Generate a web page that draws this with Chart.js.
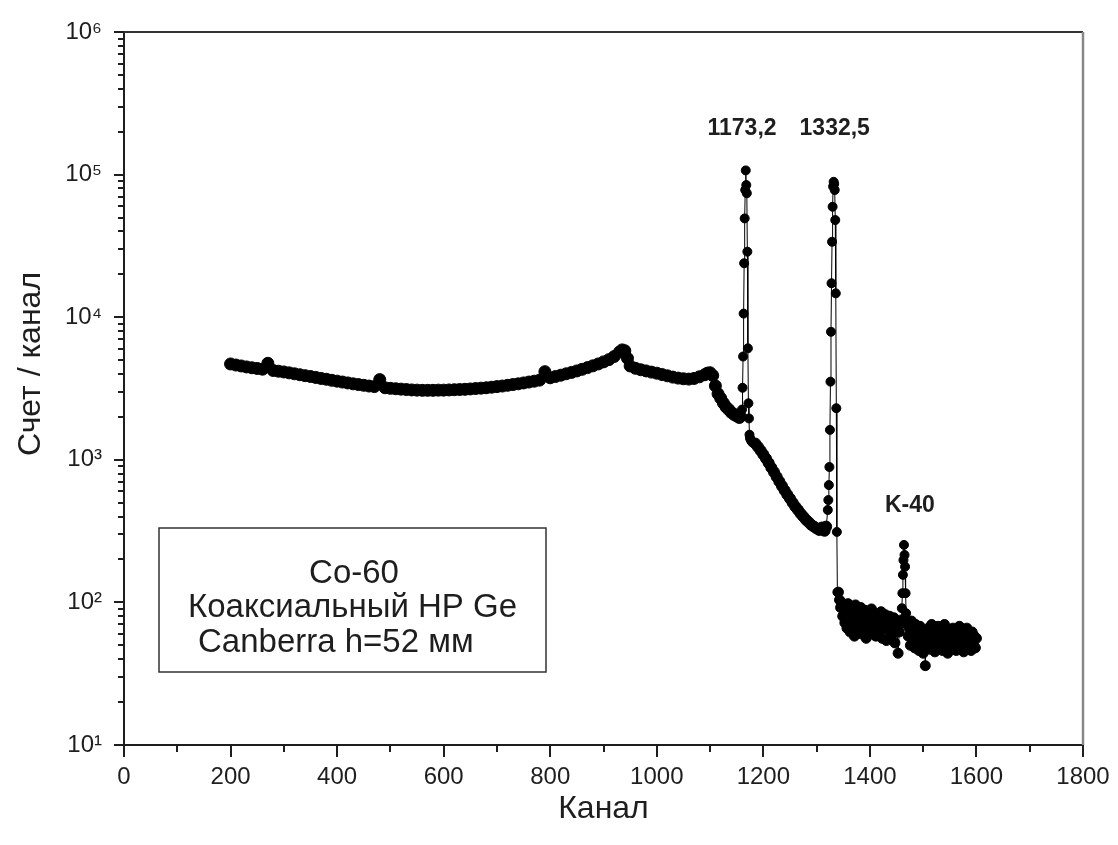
<!DOCTYPE html>
<html>
<head>
<meta charset="utf-8">
<title>Co-60 spectrum</title>
<script src="https://cdn.jsdelivr.net/npm/chart.js@4.4.0/dist/chart.umd.min.js"></script>
<style>
  html, body { margin: 0; padding: 0; background: #fff; }
  #wrap { width: 1118px; height: 845px; }
</style>
</head>
<body>
<div id="wrap"><canvas id="spectrum" width="1118" height="845"></canvas></div>
<script>
// continuum (Compton part) from channel 200 up to the first peak
var contChannels = [200, 210, 220, 230, 240, 250, 260, 270, 280, 290,
  300, 310, 320, 330, 340, 350, 360, 370, 380, 390,
  400, 410, 420, 430, 440, 450, 460, 470, 480, 490,
  500, 510, 520, 530, 540, 550, 560, 570, 580, 590,
  600, 610, 620, 630, 640, 650, 660, 670, 680, 690,
  700, 710, 720, 730, 740, 750, 760, 770, 780, 790,
  800, 810, 820, 830, 840, 850, 860, 870, 880, 890,
  900, 910, 920, 930, 935, 940, 945, 950, 960, 970, 980, 990,
  1000, 1010, 1020, 1030, 1040, 1050, 1060, 1070, 1080, 1090,
  1095, 1100, 1105, 1110, 1115, 1120, 1125, 1130, 1135, 1140, 1145, 1150, 1155];
var contCounts = [4700, 4620, 4550, 4480, 4420, 4370, 4320, 4750, 4230, 4180,
  4130, 4070, 4010, 3950, 3890, 3840, 3780, 3720, 3670, 3610,
  3560, 3510, 3460, 3410, 3370, 3330, 3290, 3260, 3650, 3200,
  3170, 3150, 3130, 3110, 3090, 3080, 3070, 3070, 3070, 3080,
  3080, 3090, 3100, 3110, 3120, 3140, 3160, 3180, 3200, 3230,
  3260, 3290, 3330, 3370, 3410, 3460, 3510, 3560, 3620, 4150,
  3760, 3840, 3920, 4010, 4100, 4200, 4310, 4430, 4560, 4700,
  4860, 5040, 5300, 5700, 5900, 5820, 5150, 4550, 4380, 4280, 4200, 4120,
  4050, 3960, 3880, 3800, 3740, 3700, 3680, 3720, 3820, 3950,
  4050, 4080, 3900, 3300, 2900, 2700, 2500, 2350, 2250, 2150, 2080, 2030, 1980];

// 1173,2 keV photopeak
var peak1Channels = [1158, 1159, 1160, 1161, 1162, 1163, 1164, 1165, 1166, 1167, 1168, 1169,
  1170, 1171, 1172, 1173, 1174, 1175, 1176, 1177, 1178, 1179, 1180];
var peak1Counts = [2000, 2050, 2250, 3200, 5300, 10600, 23900, 49300, 78000, 107000, 84500, 74000,
  28800, 6050, 2490, 1950, 1500, 1420, 1390, 1370, 1350, 1330, 1320];

// between the two peaks
var midChannels = [1185, 1190, 1195, 1200, 1205, 1210, 1215, 1220, 1225, 1230,
  1235, 1240, 1245, 1250, 1255, 1260, 1265, 1270, 1275, 1280,
  1285, 1290, 1295, 1300, 1305, 1310, 1315, 1318];
var midCounts = [1300, 1230, 1160, 1090, 1020, 950, 880, 820, 760, 705,
  655, 610, 570, 535, 500, 470, 445, 420, 400, 380,
  365, 350, 340, 330, 322, 335, 318, 340];

// 1332,5 keV photopeak
var peak2Channels = [1321, 1322, 1323, 1324, 1325, 1326, 1327, 1328, 1329, 1330,
  1331, 1332, 1333, 1334, 1335, 1336, 1337, 1338, 1339];
var peak2Counts = [445, 522, 665, 890, 1620, 3530, 7900, 17300, 33800, 59500,
  82500, 89000, 86000, 78000, 48000, 14700, 2300, 312, 118];

// background tail, K-40 line in the middle
var tailAChannels = [1341, 1343, 1345, 1347, 1349, 1351, 1353, 1355, 1357, 1359,
  1361, 1363, 1365, 1367, 1369, 1371, 1373, 1375, 1377, 1379,
  1381, 1383, 1385, 1387, 1389, 1391, 1393, 1395, 1397, 1399,
  1401, 1403, 1405, 1407, 1409, 1411, 1413, 1415, 1417, 1419,
  1421, 1423, 1425, 1427, 1429, 1431, 1433, 1435, 1437, 1439,
  1441, 1443, 1445, 1447, 1449, 1451, 1453, 1455, 1457];
var tailACounts = [118, 104, 92, 100, 80, 95, 72, 88, 66, 98,
  76, 62, 90, 70, 84, 58, 96, 74, 64, 86,
  68, 92, 60, 78, 70, 88, 56, 82, 66, 76,
  60, 90, 72, 64, 84, 58, 74, 80, 62, 70,
  86, 56, 76, 66, 82, 54, 72, 64, 80, 58,
  70, 60, 78, 52, 68, 74, 44, 62, 70];
var k40Channels = [1459, 1460, 1461, 1462, 1463, 1464, 1465, 1466, 1467, 1468];
var k40Counts = [76, 91, 116, 156, 198, 253, 215, 178, 116, 84];
var tailBChannels = [1470, 1472, 1474, 1476, 1478, 1480, 1482, 1484, 1486, 1488,
  1490, 1492, 1494, 1496, 1498, 1500, 1502, 1504, 1506, 1508,
  1510, 1512, 1514, 1516, 1518, 1520, 1522, 1524, 1526, 1528,
  1530, 1532, 1534, 1536, 1538, 1540, 1542, 1544, 1546, 1548,
  1550, 1552, 1554, 1556, 1558, 1560, 1562, 1564, 1566, 1568,
  1570, 1572, 1574, 1576, 1578, 1580, 1582, 1584, 1586, 1588,
  1590, 1592, 1594, 1596, 1598, 1600];
var tailBCounts = [72, 58, 66, 50, 74, 56, 62, 48, 70, 54,
  64, 46, 68, 52, 60, 44, 58, 36, 62, 50,
  66, 47, 58, 70, 52, 60, 45, 64, 54, 68,
  48, 58, 62, 46, 56, 70, 50, 60, 44, 64,
  52, 58, 47, 66, 54, 60, 46, 62, 52, 68,
  48, 56, 64, 45, 58, 52, 66, 48, 60, 54,
  46, 62, 52, 58, 48, 56];

// axis ticks
var xMajorTicks = [0, 200, 400, 600, 800, 1000, 1200, 1400, 1600, 1800];
var xMinorTicks = [100, 300, 500, 700, 900, 1100, 1300, 1500, 1700];
var yMajorTicks = [10, 100, 1000, 10000, 100000, 1000000];
var yTickLabels = ['10\u00B9', '10\u00B2', '10\u00B3', '10\u2074', '10\u2075', '10\u2076'];

var peakLabels = ['1173,2', '1332,5', 'K-40'];
var peakLabelChannels = [1160, 1334, 1475];
var peakLabelCounts = [210000, 210000, 480];

var legendLines = ['Co-60', 'Коаксиальный HP Ge', 'Canberra h=52 мм'];
var xTitle = 'Канал';
var yTitle = 'Счет / канал';

var FONT = "'Liberation Sans', Arial, sans-serif";
var INK = '#1e1e1e';

// marker size per segment (the dense parts of the spectrum look thicker)
var segments = [
  [contChannels, contCounts, 6],
  [peak1Channels, peak1Counts, 4.5],
  [midChannels, midCounts, 5.5],
  [peak2Channels, peak2Counts, 4.5],
  [tailAChannels, tailACounts, 5],
  [k40Channels, k40Counts, 4.5],
  [tailBChannels, tailBCounts, 5]
];
var points = [];
segments.forEach(function(seg){
  for (var i = 0; i < seg[0].length; i++) {
    points.push({x: seg[0][i], y: seg[1][i], r: seg[2]});
  }
});

// frame, minor ticks, y title, peak labels and the text box
var decorPlugin = {
  id: 'decor',
  afterDraw: function(chart){
    var ctx = chart.ctx;
    var area = chart.chartArea;
    var xs = chart.scales.x;
    var ys = chart.scales.y;
    ctx.save();

    // top and right border
    ctx.strokeStyle = '#333';
    ctx.lineWidth = 2;
    ctx.beginPath();
    ctx.moveTo(area.left, area.top);
    ctx.lineTo(area.right, area.top);
    ctx.stroke();
    ctx.strokeStyle = '#888';
    ctx.lineWidth = 2.5;
    ctx.beginPath();
    ctx.moveTo(area.right, area.top);
    ctx.lineTo(area.right, area.bottom);
    ctx.stroke();

    // minor ticks
    ctx.strokeStyle = INK;
    ctx.lineWidth = 2;
    ctx.beginPath();
    xMinorTicks.forEach(function(v){
      var px = Math.round(xs.getPixelForValue(v));
      ctx.moveTo(px, area.bottom);
      ctx.lineTo(px, area.bottom + 7);
    });
    for (var d = 10; d < 1000000; d *= 10) {
      for (var m = 2; m <= 9; m++) {
        var py = Math.round(ys.getPixelForValue(m * d));
        ctx.moveTo(area.left - 6, py);
        ctx.lineTo(area.left, py);
      }
    }
    ctx.stroke();

    // y axis title
    ctx.fillStyle = INK;
    ctx.font = '32px ' + FONT;
    ctx.textAlign = 'center';
    ctx.textBaseline = 'middle';
    ctx.save();
    ctx.translate(31, 364);
    ctx.rotate(-Math.PI / 2);
    ctx.fillText(yTitle, 0, 0);
    ctx.restore();

    // peak labels
    ctx.font = 'bold 23px ' + FONT;
    for (var i = 0; i < peakLabels.length; i++) {
      ctx.fillText(peakLabels[i], xs.getPixelForValue(peakLabelChannels[i]), ys.getPixelForValue(peakLabelCounts[i]));
    }

    // text box
    ctx.fillStyle = '#fff';
    ctx.fillRect(159, 528, 387, 144);
    ctx.strokeStyle = '#333';
    ctx.lineWidth = 1.5;
    ctx.strokeRect(159, 528, 387, 144);
    ctx.fillStyle = INK;
    ctx.font = '33px ' + FONT;
    ctx.textAlign = 'center';
    ctx.fillText(legendLines[0], 354, 574);
    ctx.textAlign = 'left';
    ctx.fillText(legendLines[1], 188, 608);
    ctx.fillText(legendLines[2], 198, 643);

    ctx.restore();
  }
};

var chart = new Chart(document.getElementById('spectrum'), {
  type: 'line',
  data: {
    datasets: [{
      data: points,
      borderColor: '#000',
      borderWidth: 1,
      pointRadius: function(c){ return c.raw ? c.raw.r : 4.5; },
      pointBackgroundColor: '#000',
      pointBorderColor: '#000',
      pointBorderWidth: 1,
      tension: 0
    }]
  },
  options: {
    responsive: false,
    animation: false,
    devicePixelRatio: 1,
    layout: { padding: { top: 32, right: 35, left: 0, bottom: 0 } },
    plugins: {
      legend: { display: false },
      tooltip: { enabled: false }
    },
    scales: {
      x: {
        type: 'linear',
        position: 'bottom',
        min: 0,
        max: 1800,
        afterBuildTicks: function(scale){
          scale.ticks = xMajorTicks.map(function(v){ return {value: v}; });
        },
        afterFit: function(scale){ scale.height = 100; },
        ticks: {
          font: { family: FONT, size: 24 },
          color: INK,
          padding: 6,
          maxRotation: 0,
          autoSkip: false,
          callback: function(value){ return String(value); }
        },
        grid: { drawOnChartArea: false, drawTicks: true, tickLength: 12, color: INK, lineWidth: 2 },
        border: { display: true, color: INK, width: 2 },
        title: {
          display: true,
          text: xTitle,
          font: { family: FONT, size: 32 },
          color: INK,
          padding: { top: 0, bottom: 17 }
        }
      },
      y: {
        type: 'logarithmic',
        position: 'left',
        min: 10,
        max: 1000000,
        afterBuildTicks: function(scale){
          scale.ticks = yMajorTicks.map(function(v){ return {value: v, major: true}; });
        },
        afterFit: function(scale){ scale.width = 124; },
        ticks: {
          font: { family: FONT, size: 24 },
          color: INK,
          padding: 12,
          autoSkip: false,
          callback: function(value){
            return yTickLabels[yMajorTicks.indexOf(value)];
          }
        },
        grid: { drawOnChartArea: false, drawTicks: true, tickLength: 10, color: INK, lineWidth: 2 },
        border: { display: true, color: INK, width: 2 },
        title: { display: false }
      }
    }
  },
  plugins: [decorPlugin]
});
</script>
</body>
</html>
